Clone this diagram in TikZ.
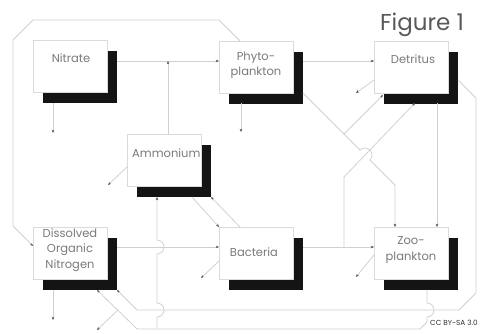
\documentclass[tikz,border=0pt]{standalone}
\usepackage{fontspec}
\setmainfont{Poppins}
\usetikzlibrary{arrows.meta,calc,shadows}
\definecolor{linegray}{HTML}{D0D0D0}
\definecolor{boxgray}{HTML}{DADADA}
\definecolor{txtgray}{HTML}{7A7A7A}
\definecolor{tipgray}{HTML}{555555}
\begin{document}
\begin{tikzpicture}[x=1pt,y=-1pt,
 box/.style={draw=boxgray, line width=0.8pt, fill=white, minimum width=74pt, minimum height=52pt,
   inner sep=0pt, outer sep=0pt, anchor=north west,
   drop shadow={shadow xshift=10pt, shadow yshift=-11pt, fill=black!92, opacity=1}},
 lbl/.style={text=txtgray, font=\fontsize{11.5}{15.5}\selectfont, align=center, inner sep=0pt},
 conn/.style={draw=linegray, line width=0.75pt},
 arr/.style={conn, -{Stealth[length=3.2pt, width=2.6pt, color=tipgray]}},
]
\useasboundingbox (0,0) rectangle (483,334);
\fill[white] (0,0) rectangle (483,334);

% boxes
\node[box] (nit) at (33,40) {};
\node[box] (phy) at (219,41) {};
\node[box] (det) at (374,41) {};
\node[box] (amm) at (127,134) {};
\node[box] (don) at (33,227) {};
\node[box] (bac) at (219,227) {};
\node[box] (zoo) at (374,227) {};

% labels
\node[lbl] (nitT) at (71,58) {Nitrate};
\node[lbl] (phyT) at (256,65) {Phyto-\\plankton};
\node[lbl] (detT) at (413,59) {Detritus};
\node[lbl, anchor=west] (ammT) at (132,153) {Ammonium};
\node[lbl] (donT) at (70,250) {Dissolved\\Organic\\Nitrogen};
\node[lbl] (bacT) at (254,252) {Bacteria};
\node[lbl] (zooT) at (411,250) {Zoo-\\plankton};

\node[text=black!65, font=\fontsize{23}{26}\selectfont, anchor=base, inner sep=0pt] (fig) at (422,31) {Figure 1};
\node[text=black!80, font=\fontsize{7.3}{9}\selectfont, inner sep=0pt] (cc) at (454,323) {CC BY-SA 3.0};

% free ends and junctions
\coordinate (jn) at (168,61);
\coordinate (nitout) at (53,133);
\coordinate (phyout) at (241,132);
\coordinate (donout) at (53,320);
\coordinate (ammout) at (108,185);
\coordinate (bacout) at (201,278);
\coordinate (zooout) at (356,277);
\coordinate (detout) at (356,93);
\coordinate (bj) at (344,247);
\coordinate (pj) at (344,134);
\coordinate (zj) at (157,329);
\coordinate (sj) at (118,310);
\coordinate (sout) at (97,330);

% connectors
\draw[arr] ($(nit.north east)+(10,21)$) -- ($(phy.north west)+(0,20)$);
\draw[arr] ($(amm.north west)+(41,0)$) -- (jn);
\draw[arr] ($(phy.north east)+(10,20)$) -- ($(det.north west)+(0,20)$);
\draw[arr] ($(phy.south west)+(22,10)$) -- (phyout);
\draw[arr] ($(nit.south west)+(20,11)$) -- (nitout);
\draw[arr] ($(don.south west)+(20,11)$) -- (donout);
\draw[arr] ($(amm.north west)+(0,33)$) -- (ammout);
\draw[arr] ($(bac.north west)+(0,34)$) -- (bacout);
\draw[arr] ($(zoo.north west)+(0,28)$) -- (zooout);
\draw[arr] ($(det.north west)+(0,39)$) -- (detout);

\draw[arr] ($(phy.north west)+(21,0)$) -- (219,20) -- (33,20) -- (13,40) -- (13,226) -- ($(don.north west)+(0,19)$);
\draw[arr] ($(don.north east)+(10,20)$) -- ($(bac.north west)+(0,20)$);
\draw[arr] ($(amm.south west)+(65,11)$) -- (bac.north west);
\draw[arr] ($(bac.north west)+(21,0)$) -- ($(amm.south east)+(10,11)$);
\draw[arr] ($(bac.north east)+(10,20)$) -- ($(zoo.north west)+(0,20)$);
\draw[arr] (bj) -- (344,177) -- ($(det.south west)+(41,10)$);
\draw[arr] ($(phy.south east)+(10,0)$) -- (360.05,150.05) arc[start angle=135, end angle=-45, radius=7pt] -- (395,185) -- ($(zoo.north west)+(21,0)$);
\draw[arr] (pj) -- ($(det.south west)+(9,2)$);
\draw[arr] ($(det.south east)+(-11,10)$) -- ($(zoo.north east)+(-11,0)$);
\draw[arr] ($(det.north east)+(10,39)$) -- (476,98) -- (476,293) -- (459,310) -- (137,310) -- ($(don.south east)+(10,11)$);
\draw[arr] ($(zoo.south west)+(53,11)$) -- (427,303) arc[start angle=90, end angle=-90, radius=7pt] -- (427,322) -- (420,329) -- (137,329) -- ($(don.south west)+(64,11)$);
\draw[arr] (zj) -- (157,317) arc[start angle=-90, end angle=90, radius=7pt] -- (157,254) arc[start angle=-90, end angle=90, radius=7pt] -- ($(amm.south west)+(30,11)$);
\draw[arr] (sj) -- (sout);
\end{tikzpicture}
\end{document}
